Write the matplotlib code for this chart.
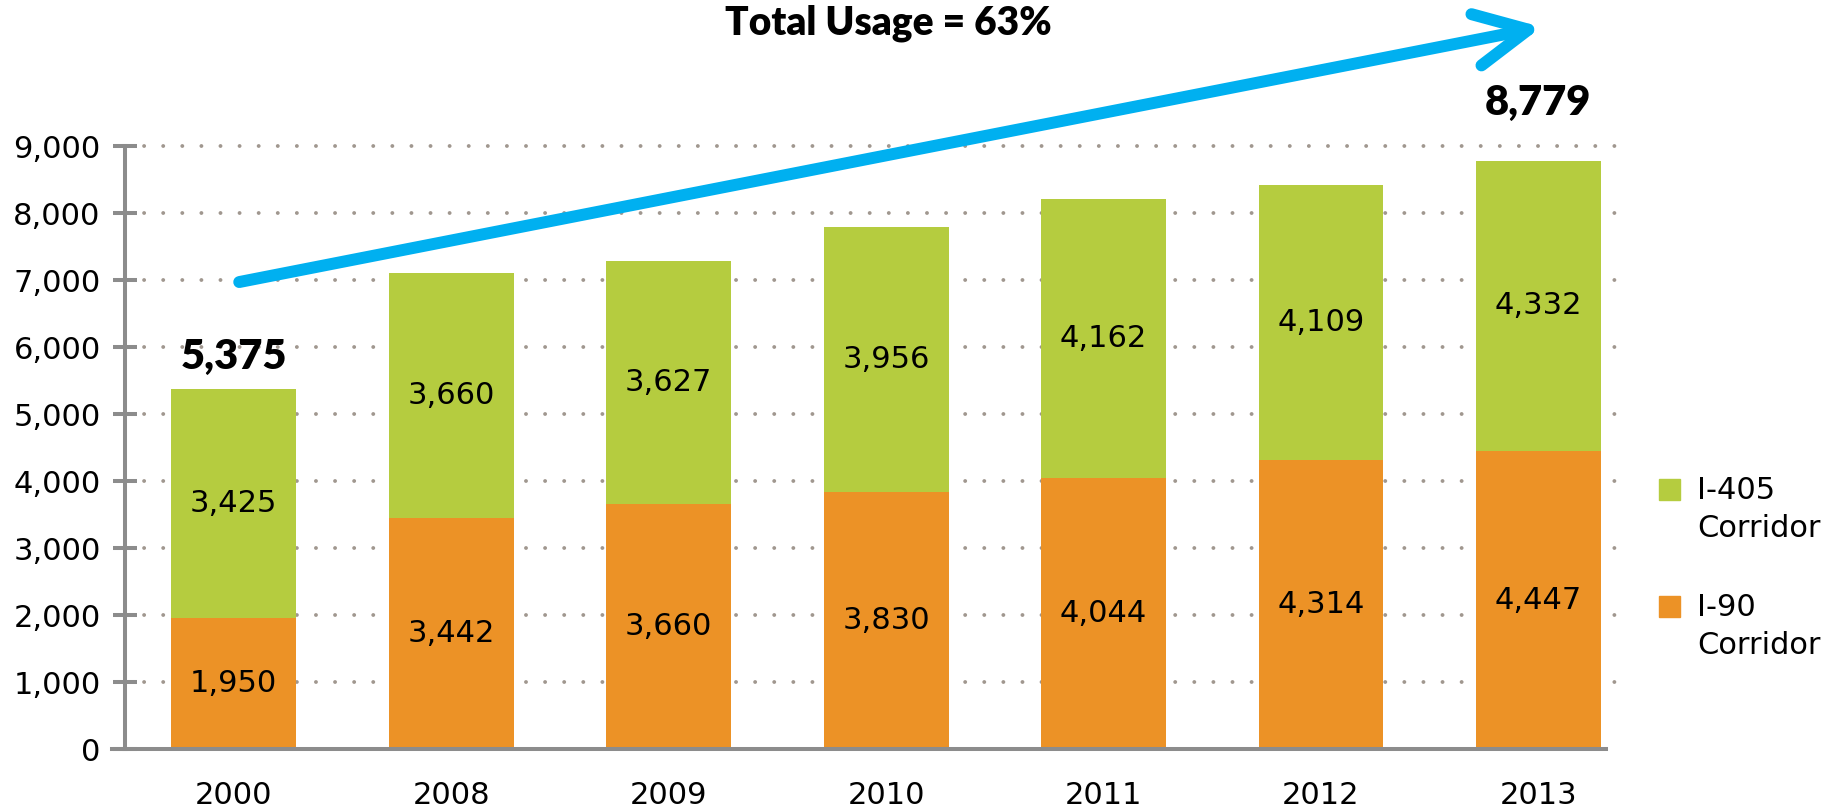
import numpy as np
import matplotlib.pyplot as plt
from matplotlib.patches import Rectangle
from matplotlib.ticker import FuncFormatter

years = ['2000', '2008', '2009', '2010', '2011', '2012', '2013']
i90 = [1950, 3442, 3660, 3830, 4044, 4314, 4447]
i405 = [3425, 3660, 3627, 3956, 4162, 4109, 4332]
series_names = ['I-405\nCorridor', 'I-90\nCorridor']
headline = 'Total Usage = 63%'

green = '#B5CC3F'
orange = '#EC9226'
gray = '#8C8C8C'
blue = '#00B0F0'

totals = np.array(i90) + np.array(i405)
x = np.arange(len(years))

fig = plt.figure(figsize=(18.39, 8.10), dpi=100)
ax = fig.add_axes([0.068, 0.0753, 0.8194, 0.7444])

b1 = ax.bar(x, i90, 0.574, color=orange, zorder=2)
b2 = ax.bar(x, i405, 0.574, bottom=i90, color=green, zorder=2)
ax.bar_label(b1, labels=[f'{v:,}' for v in i90], label_type='center', fontsize=22)
ax.bar_label(b2, labels=[f'{v:,}' for v in i405], label_type='center', fontsize=22)

ax.set_xlim(-0.5, 6.43)
ax.set_ylim(0, 9000)
ax.set_yticks(range(0, 9001, 1000))
ax.yaxis.set_major_formatter(FuncFormatter(lambda v, p: f'{int(v):,}'))
ax.set_xticks(x, years)

for s in ['top', 'right']:
    ax.spines[s].set_visible(False)
for s in ['left', 'bottom']:
    ax.spines[s].set_color(gray)
    ax.spines[s].set_linewidth(2.9)
ax.spines['bottom'].set_bounds(-0.558, 6.312)

ax.tick_params(axis='y', direction='inout', length=17, width=2.9, color=gray, pad=9, labelsize=22)
ax.tick_params(axis='x', length=0, pad=23, labelsize=22)

ax.grid(axis='y', color='#A0978F', linestyle=(0, (0.01, 4.9)), linewidth=2.8,
        dash_capstyle='round')
ax.set_axisbelow(True)
gl = ax.get_ygridlines()
gl[0].set_visible(False)
for g in gl:
    g.set_clip_on(False)

# totals for first and last year
for i, off in [(0, 14), (len(years) - 1, 33)]:
    ax.annotate(f'{totals[i]:,}', (x[i], totals[i]), xytext=(0, off),
                textcoords='offset points', ha='center', va='baseline',
                fontsize=30, fontweight='heavy', family='Lato', annotation_clip=False)

# growth arrow
ax.annotate('', xy=(6.014, 10776), xytext=(0.025, 6970),
            arrowprops=dict(arrowstyle='->,head_length=1.9,head_width=0.94', lw=8.6,
                            color=blue, shrinkA=0, shrinkB=0, mutation_scale=20),
            annotation_clip=False)

fig.text(888.5 / 1839, 1 - 35 / 810, headline, ha='center', va='baseline',
         fontsize=28, fontweight='heavy', family='Lato')

# legend
W, H = 1839, 810
for name, col, top in [(series_names[0], green, 479), (series_names[1], orange, 596)]:
    fig.patches.append(Rectangle((1659 / W, 1 - (top + 21) / H), 21 / W, 21 / H,
                                 transform=fig.transFigure, color=col))
    fig.text(1697 / W, 1 - (top - 3) / H, name, ha='left', va='top', fontsize=22,
             linespacing=1.38)

fig.savefig('out.png', dpi=100)
